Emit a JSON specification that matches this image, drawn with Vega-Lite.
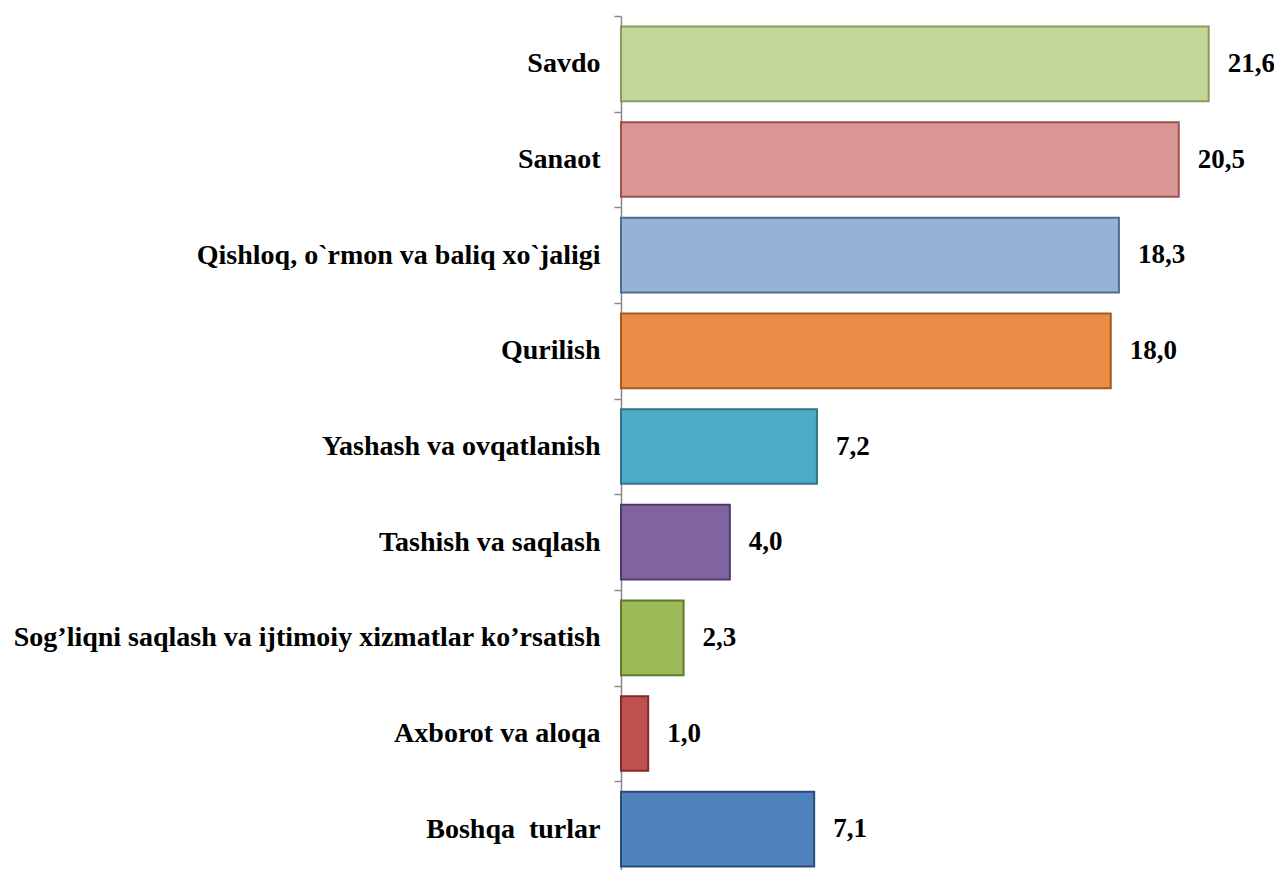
{
  "$schema": "https://vega.github.io/schema/vega-lite/v6.json",
  "autosize": {"type": "none"},
  "padding": {"left": 621, "top": 16, "right": 0, "bottom": 0},
  "width": 653,
  "height": 861,
  "background": "white",
  "config": {"view": {"stroke": null}},
  "data": {
    "values": [
      {"cat": "Savdo", "v": 21.6, "lab": "21,6"},
      {"cat": "Sanaot", "v": 20.5, "lab": "20,5"},
      {"cat": "Qishloq, o`rmon va baliq xo`jaligi", "v": 18.3, "lab": "18,3"},
      {"cat": "Qurilish\u00a0", "v": 18.0, "lab": "18,0"},
      {"cat": "Yashash va ovqatlanish\u00a0", "v": 7.2, "lab": "7,2"},
      {"cat": "Tashish va saqlash", "v": 4.0, "lab": "4,0"},
      {"cat": "Sog’liqni saqlash va ijtimoiy xizmatlar ko’rsatish", "v": 2.3, "lab": "2,3"},
      {"cat": "Axborot va aloqa\u00a0", "v": 1.0, "lab": "1,0"},
      {"cat": "Boshqa\u00a0 turlar", "v": 7.1, "lab": "7,1"}
    ]
  },
  "encoding": {
    "y": {
      "field": "cat",
      "type": "nominal",
      "sort": null,
      "scale": {"paddingInner": 0.22, "paddingOuter": 0.11},
      "axis": {
        "title": null,
        "domainColor": "#888888",
        "domainWidth": 1.5,
        "tickColor": "#888888",
        "tickWidth": 1.5,
        "tickSize": 7,
        "tickOffset": -47.8,
        "labelOffset": 47.8,
        "labelPadding": 14,
        "labelFont": "'Liberation Serif', 'Times New Roman', serif",
        "labelFontWeight": "bold",
        "labelFontSize": 28,
        "labelColor": "#000000",
        "labelLimit": 700
      }
    },
    "x": {
      "field": "v",
      "type": "quantitative",
      "scale": {"domain": [0, 24]},
      "axis": null
    }
  },
  "layer": [
    {
      "mark": {"type": "bar", "strokeWidth": 2},
      "encoding": {
        "color": {
          "field": "cat",
          "type": "nominal",
          "sort": null,
          "legend": null,
          "scale": {"range": ["#C4D79B", "#DA9694", "#95B3D7", "#E98C45", "#4BACC6", "#8064A2", "#9BBB59", "#C0504D", "#4F81BD"]}
        },
        "stroke": {
          "field": "cat",
          "type": "nominal",
          "sort": null,
          "legend": null,
          "scale": {"range": ["#8A9A5B", "#9B5250", "#4F6B8F", "#A65A1E", "#2E7386", "#4E3B66", "#61782F", "#7E2B29", "#2C4D75"]}
        }
      }
    },
    {
      "mark": {
        "type": "text",
        "align": "left",
        "baseline": "middle",
        "dx": 19,
        "font": "'Liberation Serif', 'Times New Roman', serif",
        "fontWeight": "bold",
        "fontSize": 27,
        "color": "#000000"
      },
      "encoding": {"text": {"field": "lab"}}
    }
  ]
}
